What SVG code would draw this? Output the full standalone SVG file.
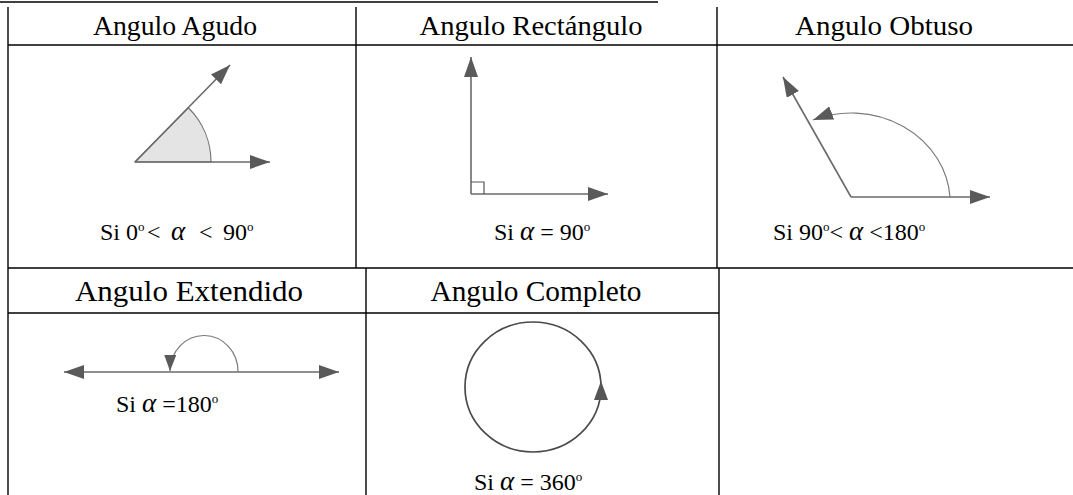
<svg xmlns="http://www.w3.org/2000/svg" width="1073" height="495" viewBox="0 0 1073 495">
<style>
.grid{stroke:#000;stroke-width:1.4;fill:none}
.hd{font-family:"Liberation Serif","Times New Roman",serif;font-size:28px;fill:#000;text-anchor:middle}
.hd2{font-size:30px}
.lb{font-family:"Liberation Serif","Times New Roman",serif;font-size:24px;fill:#000}
.al{font-style:italic;font-size:27px}
.deg{font-size:13px}
.ray{stroke:#6a6a6a;stroke-width:1.6;fill:none}
.arc{stroke:#7a7a7a;stroke-width:1.2;fill:none}
.ah{fill:#555}
</style>
<defs>
<marker id="arr" markerUnits="userSpaceOnUse" markerWidth="22" markerHeight="14" refX="20" refY="7" orient="auto">
<path d="M0,0 L20,7 L0,14 Z" fill="#5a5a5a"/>
</marker>
<marker id="arrS" markerUnits="userSpaceOnUse" markerWidth="18" markerHeight="12" refX="16" refY="6" orient="auto">
<path d="M0,0 L16,6 L0,12 Z" fill="#5a5a5a"/>
</marker>
</defs>
<g id="table">
<line class="grid" x1="0" y1="2" x2="658" y2="2"/>
<line class="grid" x1="8" y1="7" x2="8" y2="495"/>
<line class="grid" x1="8" y1="45" x2="1073" y2="45"/>
<line class="grid" x1="8" y1="268" x2="1073" y2="268"/>
<line class="grid" x1="8" y1="313" x2="719" y2="313"/>
<line class="grid" x1="356" y1="7" x2="356" y2="268"/>
<line class="grid" x1="717" y1="7" x2="717" y2="268"/>
<line class="grid" x1="366" y1="268" x2="366" y2="495"/>
<line class="grid" x1="719" y1="268" x2="719" y2="495"/>
</g>
<g id="agudo">
<text class="hd" x="175" y="35" textLength="164" lengthAdjust="spacingAndGlyphs">Angulo Agudo</text>
<path d="M135,162 L211,162 A76,76 0 0 0 188.3,107.8 Z" fill="#e4e4e4" stroke="#777" stroke-width="1.2"/>
<line class="ray" x1="135" y1="162" x2="270" y2="162" marker-end="url(#arr)"/>
<line class="ray" x1="135" y1="162" x2="230" y2="65" marker-end="url(#arr)"/>
<text class="lb" y="240"><tspan x="100">Si 0</tspan><tspan class="deg" dy="-9">o</tspan><tspan dy="9" x="147">&lt;</tspan><tspan class="al" x="171">α</tspan><tspan x="199">&lt;</tspan><tspan x="223">90</tspan><tspan class="deg" dy="-9">o</tspan></text>
</g>
<g id="rectangulo">
<text class="hd" x="531" y="35" textLength="223" lengthAdjust="spacingAndGlyphs">Angulo Rectángulo</text>
<line class="ray" x1="471" y1="194" x2="471" y2="57" marker-end="url(#arr)"/>
<line class="ray" x1="471" y1="194" x2="608" y2="194" marker-end="url(#arr)"/>
<path d="M471,182 H484 V194" fill="none" stroke="#555" stroke-width="1.2"/>
<text class="lb" y="240"><tspan x="494">Si </tspan><tspan class="al">α</tspan><tspan> = 90</tspan><tspan class="deg" dy="-9">o</tspan></text>
</g>
<g id="obtuso">
<text class="hd" x="884" y="35" textLength="178" lengthAdjust="spacingAndGlyphs">Angulo Obtuso</text>
<line class="ray" x1="851" y1="197" x2="990" y2="197" marker-end="url(#arr)"/>
<line class="ray" x1="851" y1="197" x2="783" y2="77" marker-end="url(#arr)"/>
<path class="arc" d="M950,197 A99,90 0 0 0 813,120" marker-end="url(#arr)"/>
<text class="lb" y="240"><tspan x="773">Si 90</tspan><tspan class="deg" dy="-9">o</tspan><tspan dy="9">&lt; </tspan><tspan class="al">α</tspan><tspan> &lt;180</tspan><tspan class="deg" dy="-9">o</tspan></text>
</g>
<g id="extendido">
<text class="hd hd2" x="189" y="301" textLength="228" lengthAdjust="spacingAndGlyphs">Angulo Extendido</text>
<line class="ray" x1="200" y1="372" x2="339" y2="372" marker-end="url(#arr)"/>
<line class="ray" x1="200" y1="372" x2="64" y2="372" marker-end="url(#arr)"/>
<path class="arc" d="M238,372 A34,36 0 0 0 170,371" marker-end="url(#arrS)"/>
<text class="lb" y="412"><tspan x="116">Si </tspan><tspan class="al">α</tspan><tspan> =180</tspan><tspan class="deg" dy="-9">o</tspan></text>
</g>
<g id="completo">
<text class="hd hd2" x="536" y="301" textLength="211" lengthAdjust="spacingAndGlyphs">Angulo Completo</text>
<ellipse cx="533" cy="387" rx="68" ry="65" fill="none" stroke="#4a4a4a" stroke-width="1.7"/>
<path class="ah" d="M601,381 L608,400 L594,400 Z"/>
<text class="lb" y="490"><tspan x="474">Si </tspan><tspan class="al">α</tspan><tspan> = 360</tspan><tspan class="deg" dy="-9">o</tspan></text>
</g>
</svg>
